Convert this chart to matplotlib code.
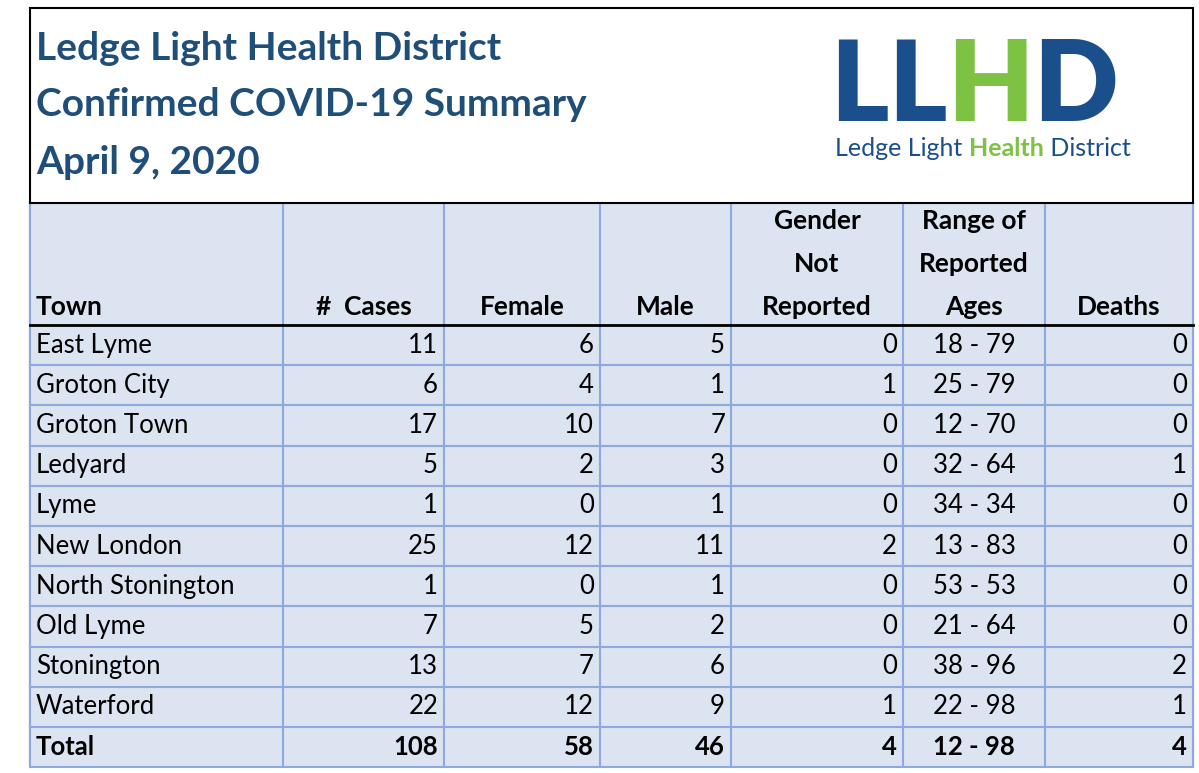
import matplotlib
matplotlib.use("Agg")
import matplotlib.pyplot as plt
from matplotlib.patches import Rectangle

towns = ["East Lyme", "Groton City", "Groton Town", "Ledyard", "Lyme", "New London",
         "North Stonington", "Old Lyme", "Stonington", "Waterford", "Total"]
cases = [11, 6, 17, 5, 1, 25, 1, 7, 13, 22, 108]
female = [6, 4, 10, 2, 0, 12, 0, 5, 7, 12, 58]
male = [5, 1, 7, 3, 1, 11, 1, 2, 6, 9, 46]
not_reported = [0, 1, 0, 0, 0, 2, 0, 0, 0, 1, 4]
age_ranges = ["18 - 79", "25 - 79", "12 - 70", "32 - 64", "34 - 34", "13 - 83",
              "53 - 53", "21 - 64", "38 - 96", "22 - 98", "12 - 98"]
deaths = [0, 0, 0, 1, 0, 0, 0, 0, 2, 1, 4]
headers = ["Town", "#  Cases", "Female", "Male", "Gender\nNot\nReported",
           "Range of\nReported\nAges", "Deaths"]

navy = "#1F4E79"
fill = "#DCE3F1"
grid = "#8EA9DB"
logo_blue = "#1B4F8C"
logo_green = "#7DC242"
font = "Lato"

fig = plt.figure(figsize=(11.99, 7.73), dpi=100)
ax = fig.add_axes([0, 0, 1, 1])
ax.set_xlim(0, 1199)
ax.set_ylim(773, 0)
ax.axis("off")
renderer = fig.canvas.get_renderer()


def run_text(x, y, parts, size):
    # draw pieces one after another, each starting where the last one ended
    for s, color, weight in parts:
        t = ax.text(x, y, s, fontsize=size, fontweight=weight, color=color,
                    family=font, va="center")
        bb = t.get_window_extent(renderer)
        x = ax.transData.inverted().transform((bb.x1, bb.y0))[0]


# outer frame
ax.add_patch(Rectangle((30, 8), 1163, 757, fill=False, ec="black", lw=1.5))

# title block
for i, line in enumerate(["Ledge Light Health District", "Confirmed COVID-19 Summary", "April 9, 2020"]):
    ax.text(36, 48 + i * 57, line, fontsize=28, fontweight="bold", color=navy,
            family=font, va="center")

# logo
run_text(830, 88, [("L", logo_blue, "heavy"), ("L", logo_blue, "heavy"),
                   ("H", logo_green, "heavy"), ("D", logo_blue, "heavy")], 80)
run_text(835, 148, [("Ledge Light ", logo_blue, "normal"), ("Health", logo_green, "bold"),
                    (" District", logo_blue, "normal")], 18)

cols = [30, 283, 444, 600, 731, 903, 1045, 1193]
top, head_bot, row_h = 203, 325, 40.2
n = len(towns)
bottom = head_bot + n * row_h

ax.add_patch(Rectangle((30, top), 1163, bottom - top, fc=fill, ec="none"))
for x in cols:
    ax.plot([x, x], [top, bottom], color=grid, lw=1.5)
for r in range(1, n + 1):
    y = head_bot + r * row_h
    ax.plot([30, 1193], [y, y], color=grid, lw=1.5)
ax.plot([30, 1193], [top, top], color="black", lw=1.5)
ax.plot([30, 1193], [head_bot, head_bot], color="black", lw=2)

# headers
for j, h in enumerate(headers):
    if j == 0:
        ax.text(cols[0] + 6, head_bot - 6, h, fontsize=19, fontweight="bold", family=font,
                va="bottom", ha="left")
    else:
        ax.text((cols[j] + cols[j + 1]) / 2, head_bot - 6, h, fontsize=19, fontweight="bold",
                family=font, va="bottom", ha="center", linespacing=1.95)

# body
for i in range(n):
    yc = head_bot + (i + 0.5) * row_h
    w = "bold" if towns[i] == "Total" else "normal"
    ax.text(cols[0] + 6, yc, towns[i], fontsize=18.5, fontweight=w, family=font, va="center")
    for j, vals in enumerate([cases, female, male, not_reported], start=1):
        ax.text(cols[j + 1] - 6, yc, str(vals[i]), fontsize=18.5, fontweight=w, family=font,
                va="center", ha="right")
    ax.text((cols[5] + cols[6]) / 2, yc, age_ranges[i], fontsize=18.5, fontweight=w,
            family=font, va="center", ha="center")
    ax.text(cols[7] - 6, yc, str(deaths[i]), fontsize=18.5, fontweight=w, family=font,
            va="center", ha="right")

fig.savefig("out.png", dpi=100)
